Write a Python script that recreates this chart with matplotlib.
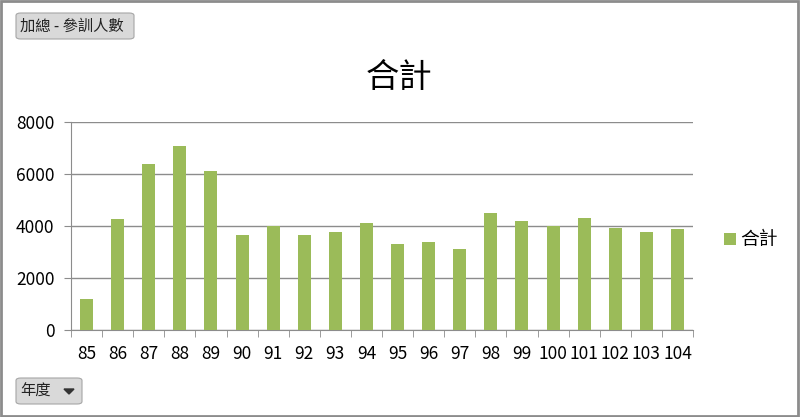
import matplotlib

matplotlib.use("Agg")

import matplotlib.pyplot as plt
from matplotlib.patches import FancyBboxPatch, Polygon, Rectangle

plt.rcParams["font.family"] = ["Noto Sans CJK TC", "DejaVu Sans"]

years = ["85", "86", "87", "88", "89", "90", "91", "92", "93", "94",
         "95", "96", "97", "98", "99", "100", "101", "102", "103", "104"]
trainees = [1190, 4280, 6380, 7060, 6130, 3640, 3990, 3640, 3780, 4100,
            3290, 3390, 3110, 4490, 4180, 3990, 4300, 3930, 3780, 3900]
yticks = [0, 2000, 4000, 6000, 8000]

GREEN = "#9bbb59"
GRID = "#8c8c8c"
W, H = 800, 417

fig = plt.figure(figsize=(8, 4.17), dpi=100)
ax = fig.add_axes([71 / W, (H - 330) / H, 622 / W, 208 / H])

x = range(len(years))
ax.bar(x, trainees, width=0.42, color=GREEN, label="合計", zorder=3)
ax.set_xlim(-0.5, len(years) - 0.5)
ax.set_ylim(0, 8000)
ax.set_yticks(yticks)
ax.set_yticklabels([str(v) for v in yticks], fontsize=12.5)
ax.set_xticks(list(x))
ax.set_xticklabels(years, fontsize=12.5)
ax.set_xticks([i - 0.5 for i in range(len(years) + 1)], minor=True)
ax.tick_params(axis="x", which="major", length=0, pad=11)
ax.tick_params(axis="x", which="minor", length=5, color=GRID, direction="out")
ax.tick_params(axis="y", length=5, color=GRID, pad=7)
ax.grid(axis="y", color=GRID, lw=1, zorder=0)
for side in ("top", "right"):
    ax.spines[side].set_visible(False)
for side in ("left", "bottom"):
    ax.spines[side].set_color(GRID)

fig.text(399 / W, 1 - 77 / H, "合計", fontsize=24, ha="center", va="center")

handles, labels = ax.get_legend_handles_labels()
fig.legend(handles, labels, loc="center left", bbox_to_anchor=(707 / W, 1 - 240 / H),
           frameon=False, fontsize=13.5, handlelength=0.65, handleheight=0.65,
           handletextpad=0.2)

# field buttons of the pivot chart
for (bx, by, bw, bh), label in [((16, 13, 118, 26), "加總 - 參訓人數"),
                               ((16, 378, 66, 26), "年度")]:
    fig.patches.append(FancyBboxPatch(
        (bx / W, 1 - (by + bh) / H), bw / W, bh / H,
        boxstyle="round,pad=0,rounding_size=0.006", transform=fig.transFigure,
        facecolor="#d9d9d9", edgecolor="#a6a6a6", lw=0.8))
    fig.text((bx + 4) / W, 1 - (by + bh / 2) / H, label, fontsize=11,
             va="center", ha="left", color="#222222")
fig.patches.append(Polygon([(64 / W, 1 - 389 / H), (74 / W, 1 - 389 / H),
                            (69 / W, 1 - 394 / H)], closed=True,
                           transform=fig.transFigure, color="#333333"))

fig.patches.append(Rectangle((0.001, 0.002), 0.997, 0.995, transform=fig.transFigure,
                             fill=False, edgecolor="#8c8c8c", lw=2))

fig.savefig("out.png", dpi=100)
